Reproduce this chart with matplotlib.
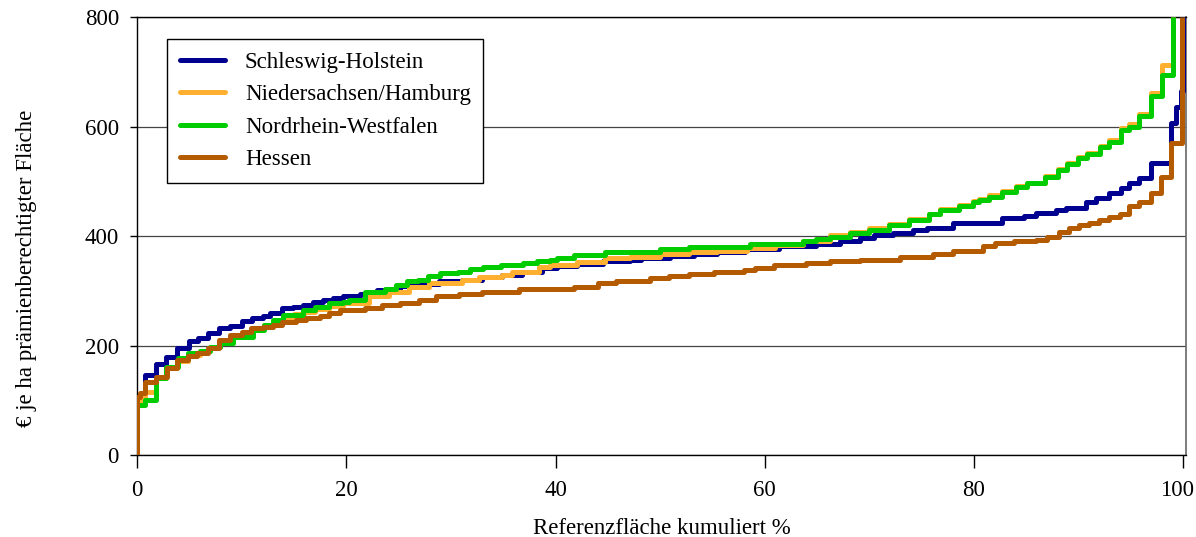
"""
Flächenprämie je ha prämienberechtigter Fläche, kumulierte Referenzfläche.
Treppenkurven für vier Regionen.
"""

import matplotlib
matplotlib.use("Agg")
import matplotlib.pyplot as plt
import matplotlib.transforms as mtransforms

plt.rcParams["font.family"] = ["Liberation Serif", "DejaVu Serif"]

# ── Farben ──
SH_COLOR = "#000090"
NH_COLOR = "#FFB030"
NW_COLOR = "#00CC00"
HE_COLOR = "#B45A00"
GRID_COLOR = "#444444"

LABELS = ["Schleswig-Holstein", "Niedersachsen/Hamburg", "Nordrhein-Westfalen", "Hessen"]

# ── Daten: x = Referenzfläche kumuliert %, y = € je ha ──
sh_x = [0, 0, 0.8, 1.8, 2.8, 3.8, 5.0, 5.8, 6.8, 7.8, 8.9, 10.0, 11.0, 12.0, 12.7, 13.9,
        14.9, 15.9, 16.8, 17.8, 18.7, 19.7, 21.3, 22.9, 25.1, 27.0, 28.9, 31.1, 33.0, 34.9,
        36.8, 38.7, 40.1, 42.1, 44.5, 47.1, 48.2, 50.9, 53.2, 55.4, 58.1, 61.4, 64.9, 67.2,
        69.1, 70.4, 72.3, 74.2, 75.5, 78.0, 82.7, 84.8, 85.9, 87.8, 88.8, 90.7, 91.7, 92.9,
        94.0, 94.8, 95.8, 96.9, 98.8, 99.3, 99.8, 100.0]
sh_y = [0, 100, 146, 166, 179, 195, 209, 214, 223, 232, 236, 245, 250, 253, 259, 268,
        271, 274, 280, 283, 287, 290, 294, 301, 308, 313, 317, 320, 325, 329,
        335, 341, 345, 349, 354, 357, 359, 363, 368, 371, 376, 381, 385, 390,
        396, 402, 406, 411, 415, 423, 433, 436, 442, 447, 451, 463, 469, 479,
        487, 497, 506, 533, 606, 635, 665, 800]

nh_x = [0, 0, 0.8, 1.8, 2.8, 3.8, 4.9, 6.0, 7.0, 7.9, 9.0, 10.0, 11.1, 12.1, 13.0, 14.0,
        15.0, 16.0, 17.0, 18.4, 19.7, 22.2, 24.1, 26.0, 27.9, 31.1, 32.7, 34.9, 35.8, 38.4,
        39.5, 42.1, 44.7, 47.1, 50.0, 52.8, 55.4, 58.3, 61.0, 63.7, 66.2, 68.1, 70.0, 71.9,
        73.8, 75.7, 76.7, 78.6, 79.9, 80.5, 81.4, 82.7, 84.0, 85.1, 86.8, 88.0, 88.9, 89.9,
        90.8, 92.0, 92.9, 94.0, 94.8, 95.8, 96.9, 98.0, 99.0]
nh_y = [0, 100, 115, 140, 158, 172, 182, 190, 197, 205, 215, 222, 230, 238, 244, 252,
        257, 262, 266, 272, 278, 290, 298, 307, 314, 320, 325, 329, 335, 344,
        347, 353, 359, 362, 367, 371, 373, 379, 384, 391, 401, 407, 415, 422,
        431, 441, 449, 456, 464, 468, 474, 483, 492, 497, 510, 523, 533, 544,
        552, 565, 576, 598, 605, 622, 662, 712, 800]

nw_x = [0, 0, 0.8, 1.8, 2.8, 3.9, 4.9, 6.0, 7.0, 7.9, 9.2, 11.1, 12.1, 13.0, 14.0, 15.9,
        17.0, 18.4, 19.7, 20.3, 21.8, 23.7, 24.8, 25.8, 26.9, 27.8, 29.0, 30.7, 31.8, 33.1,
        34.8, 36.9, 38.2, 39.5, 40.1, 41.8, 44.7, 47.1, 50.0, 52.8, 58.6, 61.1, 63.7, 64.9,
        66.2, 68.1, 70.0, 71.9, 73.8, 75.7, 76.7, 78.6, 79.9, 80.5, 81.4, 82.7, 84.0, 85.1,
        86.8, 88.0, 88.9, 89.9, 90.8, 92.0, 92.9, 94.0, 94.8, 95.8, 96.9, 98.0, 99.0]
nw_y = [0, 91, 100, 141, 161, 177, 186, 190, 198, 204, 216, 228, 237, 246, 256, 265,
        270, 277, 280, 283, 298, 304, 310, 317, 320, 327, 332, 335, 339, 343,
        347, 351, 355, 357, 359, 365, 370, 371, 376, 380, 385, 386, 390, 394,
        399, 405, 411, 420, 429, 441, 447, 454, 463, 466, 472, 481, 490, 496,
        508, 521, 531, 542, 550, 562, 572, 594, 600, 619, 656, 694, 800]

he_x = [0, 0, 0.3, 0.8, 1.8, 2.9, 3.8, 4.9, 5.7, 6.8, 7.8, 8.9, 10.0, 10.9, 12.0, 13.0,
        13.9, 15.2, 16.2, 17.5, 18.4, 19.4, 21.8, 23.4, 25.1, 27.0, 28.6, 30.8, 33.0, 36.5,
        41.8, 44.1, 45.8, 49.0, 50.8, 52.8, 55.1, 58.0, 59.1, 60.9, 63.9, 66.2, 69.1, 72.9,
        76.1, 78.0, 80.9, 82.0, 83.8, 85.9, 87.0, 88.1, 89.1, 90.0, 91.0, 91.9, 92.9, 93.9,
        94.8, 95.8, 96.9, 97.9, 98.8, 99.9]
he_y = [0, 106, 113, 134, 143, 159, 174, 180, 186, 195, 210, 219, 225, 232, 234, 237,
        243, 246, 250, 253, 259, 264, 268, 274, 278, 283, 290, 294, 298, 303,
        307, 314, 318, 323, 327, 331, 335, 338, 342, 347, 350, 354, 357, 362,
        368, 373, 381, 387, 390, 393, 399, 408, 414, 420, 423, 429, 435, 441,
        454, 463, 479, 508, 569, 800]

SERIES = [
    (sh_x, sh_y, SH_COLOR),
    (nh_x, nh_y, NH_COLOR),
    (nw_x, nw_y, NW_COLOR),
    (he_x, he_y, HE_COLOR),
]

FS = 16.5
LW = 3.6

fig = plt.figure(figsize=(11.96, 5.37), dpi=100)
ax = fig.add_axes([0.1145, 0.1527, 0.8771, 0.8156])

for (xs, ys, col), lab in zip(SERIES, LABELS):
    ax.plot(xs, ys, drawstyle="steps-post", color=col, linewidth=LW,
            solid_capstyle="butt", label=lab, zorder=3)

ax.set_xlim(0, 100.25)
ax.set_ylim(0, 800)
ax.set_xticks([0, 20, 40, 60, 80, 100])
ax.set_yticks([0, 200, 400, 600, 800])
ax.tick_params(axis="x", direction="out", length=9, width=1, pad=9, labelsize=FS)
ax.tick_params(axis="y", direction="out", length=5, width=1, pad=8, labelsize=FS)

# "100" am rechten Rand etwas nach links, damit es im Bild bleibt
lbl = ax.get_xticklabels()[-1]
lbl.set_transform(lbl.get_transform() +
                  mtransforms.ScaledTranslation(-6 / 100, 0, fig.dpi_scale_trans))

ax.yaxis.grid(True, color=GRID_COLOR, linewidth=0.9)
ax.set_axisbelow(True)
for side in ["left", "bottom", "top"]:
    ax.spines[side].set_color("black")
    ax.spines[side].set_linewidth(1)
ax.spines["right"].set_color("#666666")
ax.spines["right"].set_linewidth(1.2)

ax.set_xlabel("Referenzfläche kumuliert %", fontsize=FS, labelpad=12)
fig.text(0.022, 0.5, "€ je ha prämienberechtigter Fläche", rotation=90,
         ha="center", va="center", fontsize=FS)

leg = ax.legend(loc="upper left", bbox_to_anchor=(0.0286, 0.95), borderaxespad=0,
                fontsize=FS, frameon=True, fancybox=False, framealpha=1,
                edgecolor="black", handlelength=2.0, handletextpad=0.85,
                borderpad=0.55, labelspacing=0.5)
leg.get_frame().set_linewidth(1)
for line in leg.get_lines():
    line.set_linewidth(LW)
    line.set_solid_capstyle("round")

fig.savefig("out.png", dpi=100)
